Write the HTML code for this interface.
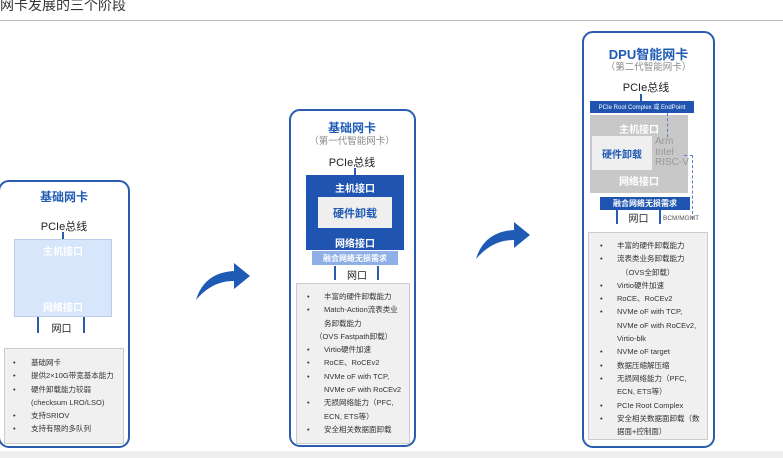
<!DOCTYPE html><html><head><meta charset="utf-8"><style>
*{margin:0;padding:0;box-sizing:border-box}
body{width:783px;height:458px;background:#fff;position:relative;overflow:hidden;font-family:"Liberation Sans","Noto Sans CJK SC",sans-serif;color:#222}
.a{position:absolute}
.c{position:absolute;text-align:center;white-space:nowrap}
.card{position:absolute;border:2px solid #2a5db0;border-radius:11px}
.tt{color:#1f5bb5;font-weight:bold;font-size:12px}
.sub{color:#888;font-size:9.5px}
.list{position:absolute;background:#f0f0f0;border:1px solid #ccc;font-size:7.5px;color:#333;line-height:13.3px}
.list div{position:relative;padding-left:var(--p)}
.list div.b:before{content:"•";position:absolute;left:var(--q)}
.wt{color:#fff;font-weight:bold;font-size:10px}
.vl{position:absolute;width:2px;background:#2a5db0}
</style></head><body>
<div class="a" style="left:0;top:-5px;font-size:14px;color:#333">网卡发展的三个阶段</div>
<div class="a" style="left:0;top:20px;width:783px;height:1px;background:#bbb"></div>
<div class="a" style="left:0;top:451px;width:783px;height:7px;background:#eee"></div>

<!-- card1 -->
<div class="card" style="left:-2px;top:180px;width:132px;height:268px"></div>
<div class="c tt" style="left:0;width:128px;top:188px">基础网卡</div>
<div class="c" style="left:0;width:128px;top:218px;font-size:11px">PCIe总线</div>
<div class="vl" style="left:62px;top:232px;height:7px"></div>
<div class="a" style="left:14px;top:239px;width:98px;height:78px;background:#d8e6fb;border:1px solid #b9cbe8"></div>
<div class="c wt" style="left:14px;width:98px;top:243px">主机接口</div>
<div class="c wt" style="left:14px;width:98px;top:299px">网络接口</div>
<div class="vl" style="left:37px;top:317px;height:16px"></div>
<div class="vl" style="left:83px;top:317px;height:16px"></div>
<div class="c" style="left:40px;width:43px;top:320px;font-size:10px">网口</div>
<div class="list" style="left:4px;top:348px;width:120px;height:96px;padding-top:7px;--p:26px;--q:8px">
<div class="b">基础网卡</div><div class="b">提供2×10G带宽基本能力</div><div class="b">硬件卸载能力较弱</div><div>(checksum LRO/LSO)</div><div class="b">支持SRIOV</div><div class="b">支持有限的多队列</div></div>

<!-- arrows -->
<svg class="a" style="left:190px;top:258px" width="65" height="46"><path d="M6 42 C12 22 26 14 44 13 L44 5 L60 18 L44 31 L44 23 C30 23 18 28 6 42Z" fill="#1f5bb5"/></svg>
<svg class="a" style="left:470px;top:217px" width="65" height="46"><path d="M6 42 C12 22 26 14 44 13 L44 5 L60 18 L44 31 L44 23 C30 23 18 28 6 42Z" fill="#1f5bb5"/></svg>

<!-- card2 -->
<div class="card" style="left:289px;top:109px;width:127px;height:338px"></div>
<div class="c tt" style="left:290px;width:124px;top:119px">基础网卡</div>
<div class="c sub" style="left:290px;width:124px;top:133px">（第一代智能网卡）</div>
<div class="c" style="left:290px;width:124px;top:154px;font-size:11px">PCIe总线</div>
<div class="vl" style="left:354px;top:168px;height:7px"></div>
<div class="a" style="left:306px;top:175px;width:98px;height:75px;background:#1f55b0"></div>
<div class="c wt" style="left:306px;width:98px;top:180px">主机接口</div>
<div class="a" style="left:318px;top:197px;width:74px;height:31px;background:#efefef"></div>
<div class="c" style="left:318px;width:74px;top:205px;font-size:11px;font-weight:bold;color:#1f5bb5">硬件卸载</div>
<div class="c wt" style="left:306px;width:98px;top:235px">网络接口</div>
<div class="a" style="left:312px;top:251px;width:86px;height:14px;background:#8fb0e6"></div>
<div class="c" style="left:312px;width:86px;top:253px;font-size:8px;color:#fff;font-weight:bold">融合网络无损需求</div>
<div class="vl" style="left:334px;top:266px;height:14px"></div>
<div class="vl" style="left:377px;top:266px;height:14px"></div>
<div class="c" style="left:336px;width:42px;top:267px;font-size:10px">网口</div>
<div class="list" style="left:296px;top:283px;width:114px;height:161px;padding-top:6px;--p:27px;--q:10px">
<div class="b">丰富的硬件卸载能力</div><div class="b">Match-Action流表类业</div><div>务卸载能力</div><div style="padding-left:18px">（OVS Fastpath卸载）</div><div class="b">Virtio硬件加速</div><div class="b">RoCE、RoCEv2</div><div class="b">NVMe oF with TCP,</div><div>NVMe oF with RoCEv2</div><div class="b">无损网络能力（PFC,</div><div>ECN, ETS等）</div><div class="b">安全相关数据面卸载</div></div>

<!-- card3 -->
<div class="card" style="left:582px;top:31px;width:133px;height:417px"></div>
<div class="c tt" style="left:583px;width:131px;top:44px;font-size:13px">DPU智能网卡</div>
<div class="c sub" style="left:583px;width:131px;top:59px">（第二代智能网卡）</div>
<div class="c" style="left:583px;width:126px;top:79px;font-size:11px">PCIe总线</div>
<div class="vl" style="left:640px;top:94px;height:7px"></div>
<div class="a" style="left:590px;top:101px;width:104px;height:12px;background:#1f55b0"></div>
<div class="c" style="left:590px;width:104px;top:102px;font-size:6px;color:#fff">PCIe Root Complex 或 EndPoint</div>
<div class="a" style="left:590px;top:115px;width:98px;height:78px;background:#c8c8c8"></div>
<div class="c wt" style="left:590px;width:98px;top:121px;color:#fff">主机接口</div>
<div class="a" style="left:592px;top:136px;width:60px;height:34px;background:#efefef"></div>
<div class="c" style="left:592px;width:60px;top:146px;font-size:10px;font-weight:bold;color:#1f5bb5">硬件卸载</div>
<div class="a" style="left:655px;top:137px;font-size:10px;color:#999;line-height:10.5px">Arm<br>Intel<br>RISC-V</div>
<div class="c wt" style="left:590px;width:98px;top:173px">网络接口</div>
<div class="a" style="left:667px;top:113px;height:24px;border-left:1px dashed #5a7fc0"></div>
<div class="a" style="left:684px;top:155px;width:9px;border-top:1px dashed #5a7fc0"></div>
<div class="a" style="left:692px;top:155px;height:64px;border-left:1px dashed #5a7fc0"></div>
<div class="a" style="left:600px;top:197px;width:90px;height:13px;background:#1f55b0"></div>
<div class="c" style="left:600px;width:90px;top:198px;font-size:8px;color:#fff;font-weight:bold">融合网络无损需求</div>
<div class="vl" style="left:616px;top:210px;height:14px"></div>
<div class="vl" style="left:659px;top:210px;height:14px"></div>
<div class="c" style="left:618px;width:41px;top:210px;font-size:10px">网口</div>
<div class="a" style="left:663px;top:215px;font-size:6.5px;color:#555">BCM/MGMT</div>
<div class="list" style="left:588px;top:232px;width:120px;height:208px;padding-top:6px;--p:28px;--q:11px">
<div class="b">丰富的硬件卸载能力</div><div class="b">流表类业务卸载能力</div><div style="padding-left:32px">（OVS全卸载）</div><div class="b">Virtio硬件加速</div><div class="b">RoCE、RoCEv2</div><div class="b">NVMe oF with TCP,</div><div>NVMe oF with RoCEv2,</div><div>Virtio-blk</div><div class="b">NVMe oF target</div><div class="b">数据压缩解压缩</div><div class="b">无损网络能力（PFC,</div><div>ECN, ETS等）</div><div class="b">PCIe Root Complex</div><div class="b">安全相关数据面卸载（数</div><div>据面+控制面）</div></div>
</body></html>
